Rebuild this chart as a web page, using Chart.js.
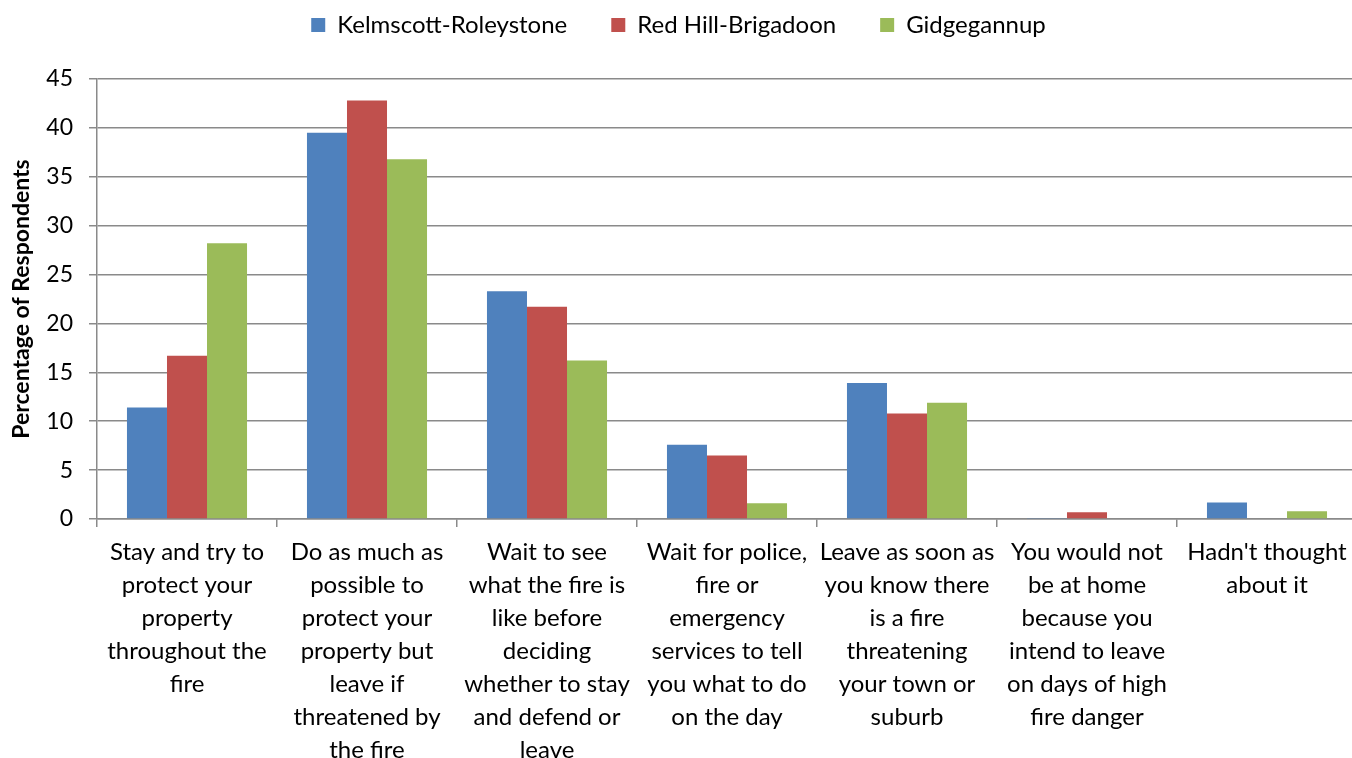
<!DOCTYPE html>
<html>
<head>
<meta charset="utf-8">
<script src="https://cdn.jsdelivr.net/npm/chart.js@4"></script>
<style>
  html, body { margin: 0; padding: 0; background: #fff; overflow: hidden; }
</style>
</head>
<body>
<canvas id="chart" width="1362" height="758"></canvas>
<script>
// categories (multi-line labels as in the original)
const categories = [
    ["Stay and try to", "protect your", "property", "throughout the", "fire"],
    ["Do as much as", "possible to", "protect your", "property but", "leave if", "threatened by", "the fire"],
    ["Wait to see", "what the fire is", "like before", "deciding", "whether to stay", "and defend or", "leave"],
    ["Wait for police,", "fire or", "emergency", "services to tell", "you what to do", "on the day"],
    ["Leave as soon as", "you know there", "is a fire", "threatening", "your town or", "suburb"],
    ["You would not", "be at home", "because you", "intend to leave", "on days of high", "fire danger"],
    ["Hadn't thought", "about it"]
];

// series values (% of respondents)
const kelmscott = [11.4, 39.5, 23.3, 7.6, 13.9, 0.1, 1.7];
const redHill = [16.7, 42.8, 21.7, 6.5, 10.8, 0.7, 0];
const gidgegannup = [28.2, 36.8, 16.2, 1.6, 11.9, 0, 0.8];

const gridColor = "#8a8a8a";
const fontFamily = "Lato, 'Noto Sans', sans-serif";

// fix the legend block height so the plot starts where the original does
const legendHeight = {
    id: "legendHeight",
    beforeInit(chart) {
        const fit = chart.legend.fit;
        chart.legend.fit = function () {
            fit.bind(chart.legend)();
            this.height = 110;
        };
    }
};

const ctx = document.getElementById("chart").getContext("2d");
new Chart(ctx, {
    type: "bar",
    data: {
        labels: categories,
        datasets: [
            { label: "Kelmscott-Roleystone", data: kelmscott, backgroundColor: "#4F81BD" },
            { label: "Red Hill-Brigadoon", data: redHill, backgroundColor: "#C0504D" },
            { label: "Gidgegannup", data: gidgegannup, backgroundColor: "#9BBB59" }
        ]
    },
    options: {
        responsive: false,
        animation: false,
        layout: { padding: { top: -31, right: 5, left: 0, bottom: 0 } },
        datasets: {
            bar: { categoryPercentage: 0.667, barPercentage: 1.0 }
        },
        scales: {
            x: {
                grid: {
                    display: true,
                    drawOnChartArea: false,
                    drawTicks: true,
                    tickLength: 8,
                    color: gridColor,
                    lineWidth: 1.5,
                    offset: true
                },
                border: { display: true, color: gridColor, width: 1.5 },
                ticks: {
                    autoSkip: false,
                    maxRotation: 0,
                    minRotation: 0,
                    padding: 9,
                    color: "#000",
                    font: { family: fontFamily, size: 24, lineHeight: 1.375 }
                },
                afterFit: (scale) => { scale.height = 239; }
            },
            y: {
                min: 0,
                max: 45,
                ticks: {
                    stepSize: 5,
                    padding: 16,
                    color: "#000",
                    font: { family: fontFamily, size: 23 }
                },
                grid: {
                    color: gridColor,
                    lineWidth: 1.5,
                    tickLength: 8
                },
                border: { display: true, color: gridColor, width: 1.5 },
                title: {
                    display: true,
                    text: "Percentage of Respondents",
                    color: "#000",
                    padding: { top: 8, bottom: 0 },
                    font: { family: fontFamily, size: 23, weight: "bold" }
                },
                afterFit: (scale) => { scale.width = 97; }
            }
        },
        plugins: {
            legend: {
                position: "top",
                labels: {
                    boxWidth: 14,
                    boxHeight: 14,
                    padding: 44,
                    color: "#000",
                    font: { family: fontFamily, size: 24 }
                }
            },
            tooltip: { enabled: false }
        }
    },
    plugins: [legendHeight]
});
</script>
</body>
</html>
